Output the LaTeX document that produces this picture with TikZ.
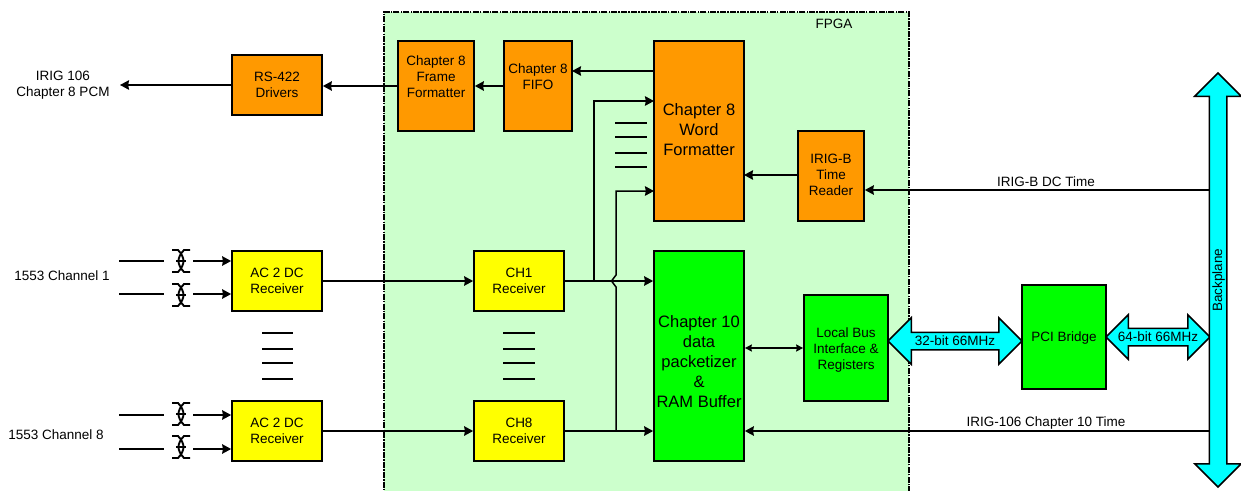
\documentclass[tikz,border=0pt]{standalone}
\usepackage{fontspec}
\setmainfont{Liberation Sans}
\usetikzlibrary{arrows.meta,shapes.arrows}
\definecolor{fpgagreen}{HTML}{CCFFCC}
\definecolor{boxorange}{HTML}{FF9900}
\definecolor{boxyellow}{HTML}{FFFF00}
\definecolor{boxgreen}{HTML}{00FF00}
\definecolor{buscyan}{HTML}{00FFFF}
\tikzset{
  txtsmall/.style={font=\fontsize{13.5}{16}\selectfont, align=center},
  txtbig/.style={font=\fontsize{16.5}{20}\selectfont, align=center},
  block/.style={draw=black, line width=1.7pt, inner sep=0pt, txtsmall},
  conn/.style={line width=1.5pt, -{Stealth[length=9pt, width=9.5pt, inset=0.8pt]}},
  twoway/.style={line width=1.5pt, {Stealth[length=7pt, width=7pt, inset=0.8pt]}-{Stealth[length=7pt, width=7pt, inset=0.8pt]}},
  wire/.style={line width=1.5pt},
  busarrow/.style={double arrow, draw=black, fill=buscyan, line width=1.5pt, inner sep=0pt,
    text height=12pt, text depth=4pt, double arrow head extend=14.5pt, txtsmall},
  twist/.pic={
    \draw[line width=1.9pt] (-9,-11) -- (-3,-11) .. controls (1,-7) and (2.5,-3) .. (2.5,0) .. controls (2.5,3) and (1,7) .. (-3,11) -- (-9,11);
    \draw[line width=1.9pt] (9,-11) -- (3,-11) .. controls (-1,-7) and (-2.5,-3) .. (-2.5,0) .. controls (-2.5,3) and (-1,7) .. (3,11) -- (9,11);
    \draw[line width=1.9pt] (-5,0) -- (5,0);
  }
}
\begin{document}
\begin{tikzpicture}[x=1pt,y=-1pt]
\useasboundingbox (0,0) rectangle (1241,490);
% FPGA area
\node[draw=black, fill=fpgagreen, line width=1.7pt, dash pattern=on 6pt off 1.2pt on 1.5pt off 1.2pt, minimum width=525pt, minimum height=490pt, inner sep=0pt] (fpga) at (646.5,257) {};
\node[txtsmall] (fpgalabel) at (834,24) {FPGA};
% blocks
\node[block, fill=boxorange, minimum width=90pt, minimum height=60pt] (rs) at (277,85) {RS-422\\Drivers};
\node[block, fill=boxorange, minimum width=76pt, minimum height=90pt, label={[txtsmall, yshift=9pt]center:Chapter 8\\Frame\\Formatter}] (frame) at (436,86) {};
\node[block, fill=boxorange, minimum width=68pt, minimum height=90pt, label={[txtsmall, yshift=9pt]center:Chapter 8\\FIFO}] (fifo) at (538,86) {};
\node[block, fill=boxorange, minimum width=90pt, minimum height=180pt, label={[txtbig, yshift=1pt]center:Chapter 8\\Word\\Formatter}] (word) at (699,131) {};
\node[block, fill=boxorange, minimum width=66pt, minimum height=90pt, label={[txtsmall, yshift=1pt]center:IRIG-B\\Time\\Reader}] (reader) at (831,176) {};
\node[block, fill=boxyellow, minimum width=90pt, minimum height=60pt] (ac1) at (277,281) {AC 2 DC\\Receiver};
\node[block, fill=boxyellow, minimum width=90pt, minimum height=60pt] (ac8) at (277,431) {AC 2 DC\\Receiver};
\node[block, fill=boxyellow, minimum width=90pt, minimum height=60pt] (ch1) at (519,281) {CH1\\Receiver};
\node[block, fill=boxyellow, minimum width=90pt, minimum height=60pt] (ch8) at (519,431) {CH8\\Receiver};
\node[block, fill=boxgreen, minimum width=90pt, minimum height=210pt, label={[txtbig, yshift=-6pt]center:Chapter 10\\data\\packetizer\\\&\\RAM Buffer}] (pkt) at (699,356) {};
\node[block, fill=boxgreen, minimum width=84pt, minimum height=106pt, label={[txtsmall, yshift=-2pt]center:Local Bus\\Interface \&\\Registers}] (bus) at (846,348) {};
\node[block, fill=boxgreen, minimum width=84pt, minimum height=104pt, label={[txtsmall, yshift=-1.5pt]center:PCI Bridge}] (pci) at (1064,337) {};
% block arrows
\node[busarrow, minimum height=134pt] (bit32) at (955,341) {32-bit 66MHz};
\node[busarrow, minimum height=104pt, double arrow head extend=13.5pt] (bit64) at (1158,337) {64-bit 66MHz};
\node[busarrow, rotate=90, minimum height=414pt] (back) at (1218,280) {Backplane};
% outer labels
\node[txtsmall] (pcm) at (63,85) {IRIG 106\\Chapter 8 PCM};
\node[txtsmall] (chan1) at (62,276) {1553 Channel 1};
\node[txtsmall] (chan8) at (56,435) {1553 Channel 8};
\node[txtsmall] (timeb) at (1046,182) {IRIG-B DC Time};
\node[txtsmall] (time10) at (1046,423) {IRIG-106 Chapter 10 Time};
% chapter 8 path
\coordinate (pcmout) at (120,85);
\coordinate (fifoin) at (572,71);
\coordinate (wordout) at (654,71);
\coordinate (readin) at (744,175);
\coordinate (readout) at (798,175);
\coordinate (bpb) at (1210,190);
\draw[conn] (rs.west) -- (pcmout);
\draw[conn] (frame.west) -- (frame.west -| rs.east);
\draw[conn] (fifo.west) -- (fifo.west -| frame.east);
\draw[conn] (wordout) -- (fifoin);
\draw[conn] (readout) -- (readin);
\draw[conn] (bpb) -- (bpb -| reader.east);
% receivers
\draw[conn] (ac1.east) -- (ch1.west);
\draw[conn] (ac8.east) -- (ch8.west);
\draw[conn] (ch1.east) -- (ch1.east -| pkt.west);
\draw[conn] (ch8.east) -- (ch8.east -| pkt.west);
\coordinate (br1) at (594,281);
\coordinate (w1) at (654,101);
\coordinate (br8) at (616,431);
\coordinate (jumpa) at (616,287);
\coordinate (jumpm) at (611.5,281);
\coordinate (jumpb) at (616,275);
\coordinate (w8) at (654,191);
\draw[conn] (br1) |- (w1);
\draw[conn] (br8) -- (jumpa) -- (jumpm) -- (jumpb) |- (w8);
\coordinate (bp10) at (1210,431);
\draw[conn] (bp10) -- (bp10 -| pkt.east);
\draw[twoway] (bus.west -| pkt.east) -- (bus.west);
% twisted pairs, channel 1
\coordinate (t1a) at (119,261);
\coordinate (t1b) at (164,261);
\coordinate (t1c) at (193,261);
\coordinate (t2a) at (119,294);
\coordinate (t2b) at (164,294);
\coordinate (t2c) at (193,294);
\draw[wire] (t1a) -- (t1b);
\draw[wire] (t2a) -- (t2b);
\draw[conn] (t1c) -- (t1c -| ac1.west);
\draw[conn] (t2c) -- (t2c -| ac1.west);
\pic at (181,261) {twist};
\pic at (181,295) {twist};
% twisted pairs, channel 8
\coordinate (t3a) at (119,415);
\coordinate (t3b) at (164,415);
\coordinate (t3c) at (193,415);
\coordinate (t4a) at (119,449);
\coordinate (t4b) at (164,449);
\coordinate (t4c) at (193,449);
\draw[wire] (t3a) -- (t3b);
\draw[wire] (t4a) -- (t4b);
\draw[conn] (t3c) -- (t3c -| ac8.west);
\draw[conn] (t4c) -- (t4c -| ac8.west);
\pic at (181,414) {twist};
\pic at (181,447) {twist};
% omitted channels
\draw[wire] (262,333) -- (293,333);
\draw[wire] (262,349) -- (293,349);
\draw[wire] (262,363) -- (293,363);
\draw[wire] (262,379) -- (293,379);
\draw[wire] (503,333) -- (535,333);
\draw[wire] (503,349) -- (535,349);
\draw[wire] (503,363) -- (535,363);
\draw[wire] (503,379) -- (535,379);
\draw[wire] (615,123) -- (647,123);
\draw[wire] (615,137) -- (647,137);
\draw[wire] (615,153) -- (647,153);
\draw[wire] (615,167) -- (647,167);
\end{tikzpicture}
\end{document}
